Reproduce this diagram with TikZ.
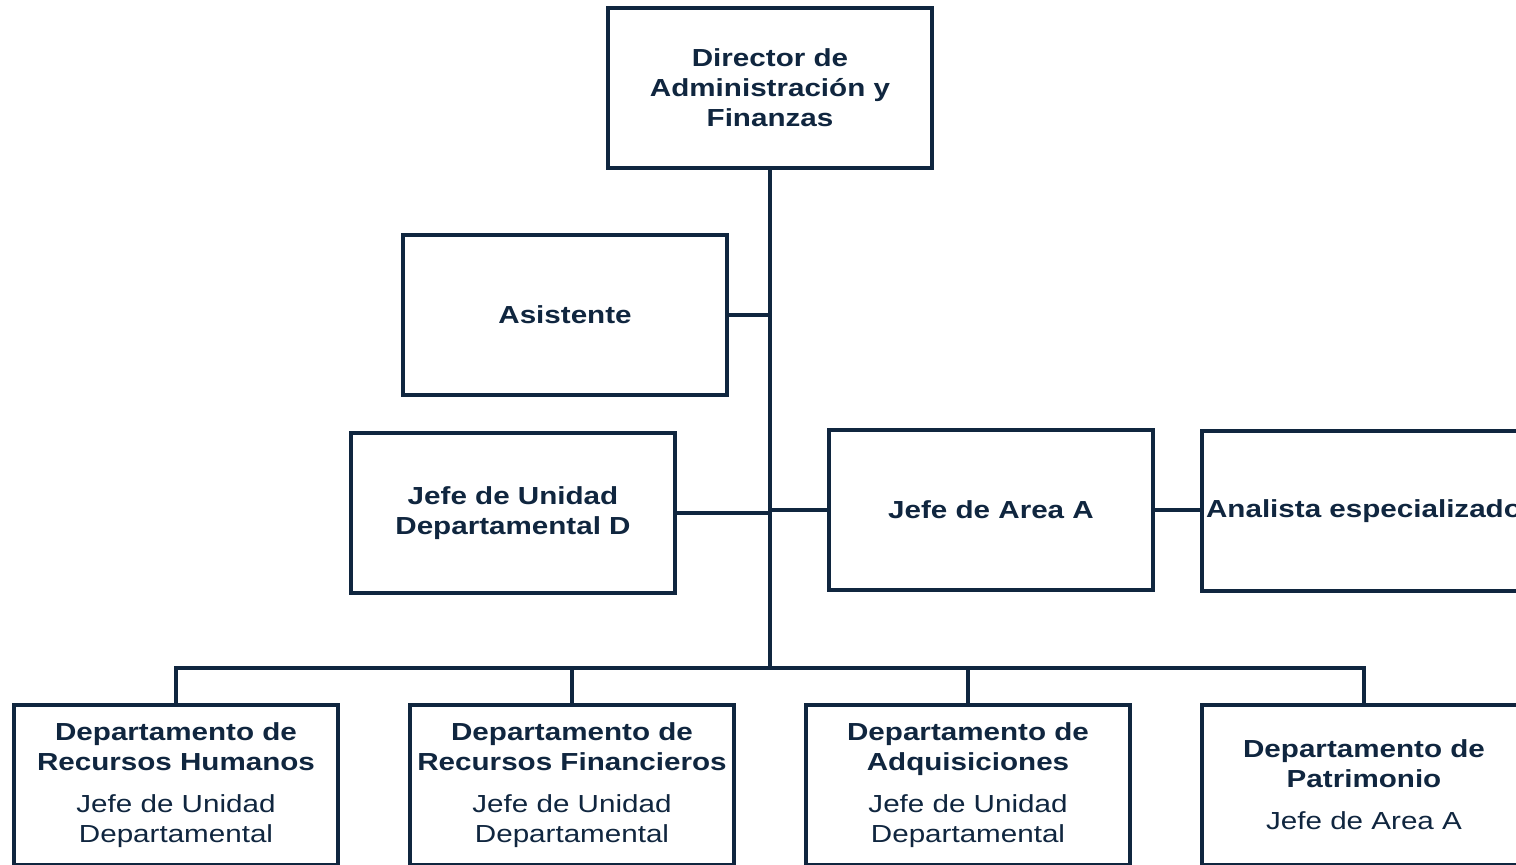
\documentclass[tikz,border=0pt]{standalone}
\usepackage{fontspec}
\setmainfont{Liberation Sans}[FakeStretch=1.2]
\definecolor{navy}{HTML}{10263F}
\newcommand{\jefe}[1]{\mdseries #1}
\tikzset{
	puesto/.style={draw=navy, line width=3pt, fill=white, minimum width=243pt, minimum height=120pt,
		inner sep=0pt, align=center, text=navy, font=\fontsize{18.5pt}{22.5pt}\selectfont\bfseries},
	linea/.style={draw=navy, line width=3pt},
}
\begin{document}
\begin{tikzpicture}[x=0.75pt, y=-0.75pt]
		\useasboundingbox (0,0) rectangle (1516,864);
		\clip (0,0) rectangle (1516,864);
		% puestos
		\node[puesto] (dir) at (770,88) {Director de\\Administración y\\Finanzas};
		\node[puesto] (asis) at (565,315) {Asistente};
		\node[puesto] (jud) at (513,513) {Jefe de Unidad\\Departamental D};
		\node[puesto] (jaa) at (991,510) {Jefe de Area A};
		\node[puesto] (anal) at (1364,511) {Analista especializado};
		% departamentos
		\node[puesto] (rh) at (176,785) {Departamento de\\Recursos Humanos\\[9pt]\jefe{Jefe de Unidad}\\\jefe{Departamental}};
		\node[puesto] (rf) at (572,785) {Departamento de\\Recursos Financieros\\[9pt]\jefe{Jefe de Unidad}\\\jefe{Departamental}};
		\node[puesto] (adq) at (968,785) {Departamento de\\Adquisiciones\\[9pt]\jefe{Jefe de Unidad}\\\jefe{Departamental}};
		\node[puesto] (pat) at (1364,785) {Departamento de\\Patrimonio\\[9pt]\jefe{Jefe de Area A}};
		\coordinate (bus) at (770,668);
		% lineas
		\draw[linea] (dir.south) -- (bus);
		\draw[linea] (asis.east) -- (asis.east -| dir.south);
		\draw[linea] (jud.east) -- (jud.east -| dir.south);
		\draw[linea] (jaa.west) -- (jaa.west -| dir.south);
		\draw[linea] (jaa.east) -- (jaa.east -| anal.west);
		\draw[linea] (rh.north) |- (bus) -| (pat.north);
		\foreach \d in {rf,adq} \draw[linea] (\d.north) -- (\d.north |- bus);
\end{tikzpicture}
\end{document}
